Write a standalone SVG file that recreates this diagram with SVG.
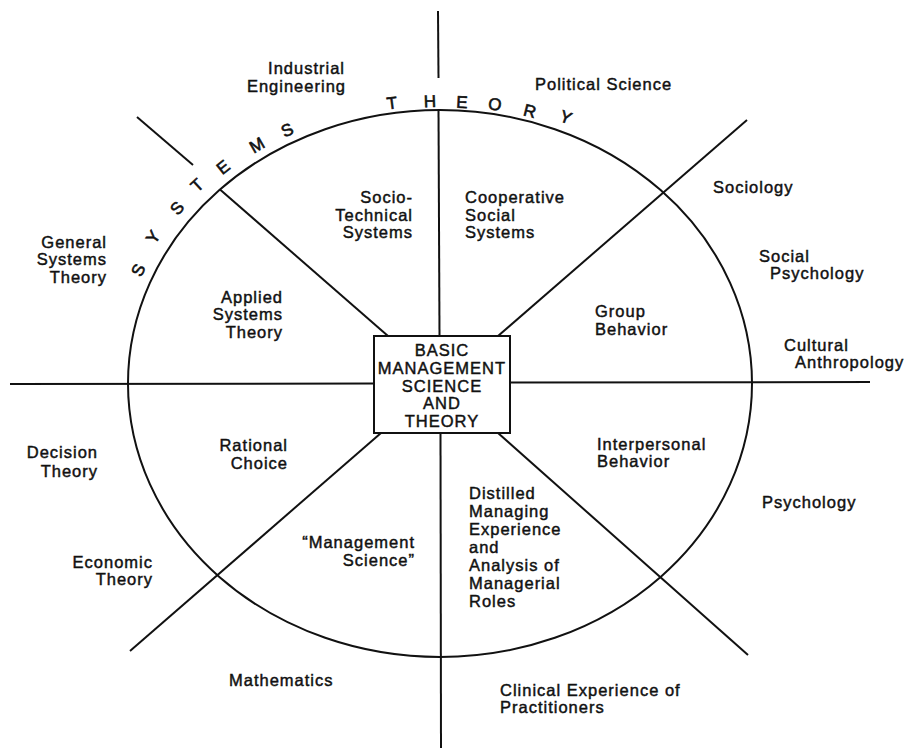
<svg xmlns="http://www.w3.org/2000/svg" width="907" height="754" viewBox="0 0 907 754">
<style>
.t{font-family:"Liberation Sans",Arial,Helvetica,sans-serif;font-size:16.5px;letter-spacing:1px;fill:#111;stroke:#111;stroke-width:0.45}
.e{text-anchor:end}
.c{text-anchor:middle}
.arc{font-family:"Liberation Sans",Arial,Helvetica,sans-serif;font-size:17px;fill:#111;stroke:#111;stroke-width:0.6;text-anchor:middle}
.ln{stroke:#111;stroke-width:2;fill:none;stroke-linecap:butt}
</style>
<rect width="907" height="754" fill="#fff"/>
<g id="connectors" class="ln">
<ellipse cx="440" cy="383.5" rx="312" ry="273.5"/>
<line x1="438" y1="11" x2="438.5" y2="78"/>
<line x1="438.5" y1="110" x2="439.5" y2="336"/>
<line x1="440.5" y1="433" x2="441" y2="748"/>
<line x1="10" y1="384" x2="374" y2="383.5"/>
<line x1="510" y1="382.5" x2="870" y2="382"/>
<line x1="137" y1="117" x2="193" y2="165"/>
<line x1="220" y1="189.5" x2="388" y2="336"/>
<line x1="498" y1="336" x2="747" y2="120"/>
<line x1="381" y1="433" x2="130" y2="651"/>
<line x1="498" y1="433" x2="748" y2="655"/>
</g>
<g id="center">
<rect x="374" y="336" width="136" height="97" fill="#fff" stroke="#111" stroke-width="2"/>
<text class="t c" x="442" y="356">BASIC</text>
<text class="t c" x="442" y="374">MANAGEMENT</text>
<text class="t c" x="442" y="392">SCIENCE</text>
<text class="t c" x="442" y="409">AND</text>
<text class="t c" x="442" y="427">THEORY</text>
</g>
<g id="systems-theory-arc">
<text class="arc" transform="translate(138,270) rotate(-64)" y="6">S</text>
<text class="arc" transform="translate(153,237) rotate(-56)" y="6">Y</text>
<text class="arc" transform="translate(177,208) rotate(-49)" y="6">S</text>
<text class="arc" transform="translate(197,185) rotate(-43)" y="6">T</text>
<text class="arc" transform="translate(223,167) rotate(-38)" y="6">E</text>
<text class="arc" transform="translate(257,145) rotate(-30)" y="6">M</text>
<text class="arc" transform="translate(287,130) rotate(-25)" y="6">S</text>
<text class="arc" transform="translate(392,103) rotate(-7)" y="6">T</text>
<text class="arc" transform="translate(430,101) rotate(-2)" y="6">H</text>
<text class="arc" transform="translate(462,102) rotate(3)" y="6">E</text>
<text class="arc" transform="translate(495,104) rotate(9)" y="6">O</text>
<text class="arc" transform="translate(530,111) rotate(14)" y="6">R</text>
<text class="arc" transform="translate(566,117) rotate(20)" y="6">Y</text>
</g>
<g id="socio-technical"><text class="t e" x="413" y="203">Socio-</text><text class="t e" x="413" y="221">Technical</text><text class="t e" x="413" y="238">Systems</text></g>
<g id="cooperative"><text class="t" x="465" y="203">Cooperative</text><text class="t" x="465" y="221">Social</text><text class="t" x="465" y="238">Systems</text></g>
<g id="applied"><text class="t e" x="283" y="303">Applied</text><text class="t e" x="283" y="320">Systems</text><text class="t e" x="283" y="338">Theory</text></g>
<g id="group"><text class="t" x="595" y="317">Group</text><text class="t" x="595" y="335">Behavior</text></g>
<g id="rational"><text class="t e" x="288" y="451">Rational</text><text class="t e" x="288" y="469">Choice</text></g>
<g id="interpersonal"><text class="t" x="597" y="450">Interpersonal</text><text class="t" x="597" y="467">Behavior</text></g>
<g id="management-science"><text class="t e" x="415" y="548">“Management</text><text class="t e" x="415" y="566">Science”</text></g>
<g id="distilled"><text class="t" x="469" y="499">Distilled</text><text class="t" x="469" y="517">Managing</text><text class="t" x="469" y="535">Experience</text><text class="t" x="469" y="553">and</text><text class="t" x="469" y="571">Analysis of</text><text class="t" x="469" y="589">Managerial</text><text class="t" x="469" y="607">Roles</text></g>
<g id="industrial"><text class="t e" x="345" y="74">Industrial</text><text class="t e" x="346" y="92">Engineering</text></g>
<g id="political"><text class="t" x="535" y="90">Political Science</text></g>
<g id="sociology"><text class="t" x="713" y="193">Sociology</text></g>
<g id="social-psychology"><text class="t" x="759" y="262">Social</text><text class="t" x="770" y="279">Psychology</text></g>
<g id="cultural"><text class="t" x="784" y="351">Cultural</text><text class="t" x="795" y="368">Anthropology</text></g>
<g id="psychology"><text class="t" x="762" y="508">Psychology</text></g>
<g id="general-systems"><text class="t e" x="107" y="248">General</text><text class="t e" x="107" y="265">Systems</text><text class="t e" x="107" y="283">Theory</text></g>
<g id="decision"><text class="t e" x="98" y="458">Decision</text><text class="t e" x="98" y="477">Theory</text></g>
<g id="economic"><text class="t e" x="153" y="568">Economic</text><text class="t e" x="153" y="585">Theory</text></g>
<g id="mathematics"><text class="t" x="229" y="686">Mathematics</text></g>
<g id="clinical"><text class="t" x="500" y="696">Clinical Experience of</text><text class="t" x="500" y="713">Practitioners</text></g>
</svg>
